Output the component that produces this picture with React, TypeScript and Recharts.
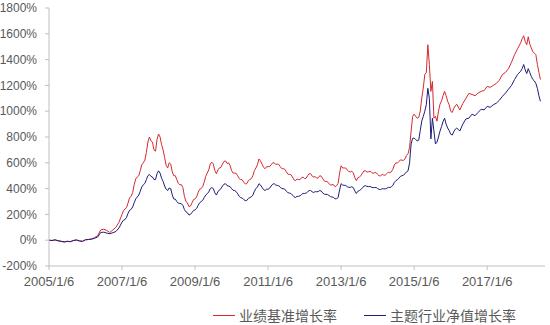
import React from 'react';
import { LineChart, Line, XAxis, YAxis } from 'recharts';

// month offsets from 2005/1/6
const months = [
  0, 1, 2, 3, 4, 5, 6, 7, 8, 9,
  10, 11, 12, 13, 14, 15, 16, 17, 18, 19,
  20, 21, 22, 23,
  24, 24.5, 25, 25.5, 26, 26.5, 27, 27.5, 28, 28.5,
  29, 29.5, 30, 30.5, 31, 31.5, 32, 32.5, 33, 33.5,
  34, 34.5, 35, 35.5, 36, 36.5, 37, 37.5, 38, 38.5,
  39, 39.5, 40, 40.5, 41, 41.5, 42, 42.5, 43, 43.5,
  44, 44.5, 45, 45.5, 46, 46.5, 47, 47.5, 48, 48.5,
  49, 49.5, 50, 50.5, 51, 51.5, 52, 52.5, 53, 53.5,
  54, 54.5, 55, 55.5, 56, 56.5, 57, 57.5, 58, 58.5,
  59, 59.5, 60, 60.5, 61, 61.5, 62, 62.5, 63, 63.5,
  64, 64.5, 65, 65.5, 66, 66.5, 67, 67.5, 68, 68.5,
  69, 69.5, 70, 70.5, 71, 71.5, 72, 72.5, 73, 73.5,
  74, 74.5, 75, 75.5, 76, 76.5, 77, 77.5, 78, 78.5,
  79, 79.5, 80, 80.5, 81, 81.5, 82, 82.5, 83, 83.5,
  84, 84.5, 85, 85.5, 86, 86.5, 87, 87.5, 88, 88.5,
  89, 89.5, 90, 90.5, 91, 91.5, 92, 92.5, 93, 93.5,
  94, 94.5, 95, 95.5, 96, 96.5, 97, 97.5, 98, 98.5,
  99, 99.5, 100, 100.5, 101, 101.5, 102, 102.5, 103, 103.5,
  104, 104.5, 105, 105.5, 106, 106.5, 107, 107.5, 108, 108.5,
  109, 109.5, 110, 110.5, 111, 111.5, 112, 112.5, 113, 113.5,
  114, 114.5, 115, 115.5, 116, 116.5, 117, 117.5,
  118, 118.5, 119, 119.5, 120, 120.5, 121, 121.5, 122, 122.5,
  123, 123.5, 124, 124.5, 125, 125.5, 126, 126.5, 127, 127.5,
  128, 128.5, 129, 129.5, 130, 130.5, 131, 131.5, 132, 132.5,
  133, 133.5, 134,
  135, 136, 137, 138, 139, 140, 141, 142, 143, 144,
  145, 146, 147, 148, 149, 150, 151, 152, 153, 154, 155,
  155.5, 156, 156.5, 157, 157.5, 158, 158.5, 159, 159.5, 160,
  160.5, 161, 161.5,
];

// 业绩基准增长率 (%)
const benchmark = [
  0, -3, 2, -5, -10, -14, -8, -12, -2, 3,
  -5, -8, 4, 6, 10, 20, 35, 80, 85, 75,
  60, 80, 100, 140,
  200, 230, 240, 255, 290, 330, 340, 370, 430, 475,
  490, 500, 540, 585, 600, 620, 680, 760, 800, 770,
  760, 700, 690, 780, 823, 800, 740, 700, 640, 580,
  560, 600, 590, 530, 500, 500, 470, 440, 430, 430,
  408, 340, 300, 290, 260, 265, 290, 315, 320, 335,
  370, 395, 400, 415, 450, 495, 520, 545, 590, 605,
  590, 540, 515, 545, 560, 565, 590, 610, 615, 595,
  600, 580, 540, 520, 520, 518, 500, 478, 470, 468,
  450, 436, 438, 462, 470, 478, 500, 540, 560, 585,
  630, 615, 590, 565, 554, 570, 570, 570, 585, 600,
  600, 588, 590, 588, 570, 555, 554, 550, 530, 512,
  510, 508, 490, 468, 462, 474, 470, 470, 485, 489,
  477, 481, 500, 515, 515, 496, 490, 493, 480, 484,
  500, 495, 475, 458, 455, 454, 438, 428, 430, 430,
  415, 422, 440, 520, 577, 560, 560, 560, 545, 532,
  530, 534, 523, 485, 462, 484, 490, 500, 520, 537,
  538, 528, 530, 535, 525, 518, 523, 524, 510, 499,
  500, 510, 505, 504, 515, 527, 523, 530, 550, 583,
  600, 598, 610, 623, 620, 619, 630, 658,
  670, 720, 846, 960, 977, 960, 946, 950, 1000, 1100,
  1180, 1285, 1300, 1515, 1362, 1154, 1230, 946, 960, 923,
  1000, 1054, 1080, 1120, 1154, 1120, 1077, 1050, 1000, 990,
  1020, 1040, 1054,
  1010, 1060, 1100, 1138, 1130, 1120, 1140, 1154, 1160, 1192,
  1185, 1200, 1215, 1240, 1285, 1300, 1330, 1380, 1438, 1485, 1530,
  1562, 1585, 1540, 1515, 1577, 1520, 1490, 1462, 1450, 1438,
  1362, 1300, 1246,
];

// 主题行业净值增长率 (%)
const fund = [
  0, -2, 3, -4, -8, -13, -9, -11, -3, 1,
  -6, -9, 3, 5, 8, 15, 25, 60, 62, 55,
  50, 58, 68, 95,
  140, 155, 160, 178, 210, 232, 240, 258, 290, 320,
  335, 350, 380, 413, 430, 440, 470, 500, 510, 495,
  490, 470, 470, 515, 538, 520, 480, 455, 420, 395,
  385, 405, 400, 352, 320, 318, 300, 287, 285, 283,
  270, 238, 220, 212, 195, 200, 215, 230, 235, 246,
  270, 290, 300, 309, 330, 350, 360, 374, 400, 408,
  400, 367, 350, 375, 390, 399, 420, 434, 438, 423,
  420, 415, 400, 387, 385, 377, 360, 340, 330, 327,
  315, 307, 308, 324, 330, 336, 350, 380, 400, 413,
  438, 428, 410, 393, 385, 395, 395, 403, 420, 434,
  438, 428, 425, 422, 410, 401, 400, 395, 380, 369,
  365, 362, 350, 337, 331, 340, 340, 344, 355, 363,
  362, 365, 375, 385, 385, 375, 370, 377, 375, 378,
  385, 380, 365, 357, 355, 355, 346, 338, 335, 332,
  320, 322, 330, 390, 438, 428, 425, 425, 415, 410,
  410, 414, 408, 382, 362, 379, 385, 393, 405, 419,
  423, 417, 415, 417, 410, 407, 408, 409, 400, 394,
  392, 400, 398, 398, 402, 410, 408, 414, 425, 448,
  462, 469, 480, 495, 500, 505, 515, 530,
  538, 600, 746, 790, 792, 780, 770, 775, 850, 923,
  960, 1000, 1050, 1177, 1100, 785, 946, 846, 746, 760,
  800, 846, 880, 920, 946, 900, 870, 850, 823, 815,
  840, 860, 870,
  846, 900, 940, 946, 977, 965, 990, 1015, 1010, 1038,
  1030, 1050, 1062, 1085, 1115, 1140, 1170, 1200, 1246, 1285, 1310,
  1330, 1362, 1320, 1292, 1330, 1300, 1270, 1246, 1235, 1215,
  1177, 1120, 1077,
];

const tickMonths = [0, 24, 48, 72, 96, 120, 144];
const tickLabels = ['2005/1/6', '2007/1/6', '2009/1/6', '2011/1/6', '2013/1/6', '2015/1/6', '2017/1/6'];
const yTicks = [-200, 0, 200, 400, 600, 800, 1000, 1200, 1400, 1600, 1800];
const seriesNames = ['业绩基准增长率', '主题行业净值增长率'];
const seriesColors = ['#d42a2f', '#1d1d78'];

const data = months.map((t, i) => ({ t, benchmark: benchmark[i], fund: fund[i] }));

const textColor = '#595959';
const axisColor = '#bfbfbf';

const LegendBlock = () => (
  <div
    style={{
      position: 'absolute',
      left: 213,
      top: 305,
      height: 20,
      display: 'flex',
      alignItems: 'center',
      fontFamily: '"Noto Sans CJK SC", sans-serif',
      fontSize: 14,
      color: textColor,
      lineHeight: '20px',
      whiteSpace: 'nowrap',
    }}
  >
    {seriesNames.map((name, i) => (
      <div key={name} style={{ display: 'flex', alignItems: 'center', marginRight: 27 }}>
        <div style={{ width: 22, height: 1, background: seriesColors[i], marginRight: 4 }} />
        <span>{name}</span>
      </div>
    ))}
  </div>
);

export default function App() {
  return (
    <div style={{ position: 'fixed', left: 0, top: 0, width: 550, height: 325, background: '#fff' }}>
      <LineChart
        width={550}
        height={325}
        data={data}
        margin={{ top: 8, right: 5, left: 0, bottom: 29 }}
      >
        <XAxis
          dataKey="t"
          type="number"
          domain={[0, 163]}
          ticks={tickMonths}
          tickFormatter={(v: number) => tickLabels[tickMonths.indexOf(v)] ?? ''}
          stroke={axisColor}
          tickSize={4}
          tickMargin={7}
          height={30}
          tick={{ fill: textColor, fontSize: 13, fontFamily: '"Liberation Sans", Arial, sans-serif' }}
          interval={0}
        />
        <YAxis
          type="number"
          domain={[-200, 1800]}
          ticks={yTicks}
          tickFormatter={(v: number) => `${v}%`}
          stroke={axisColor}
          tickSize={4}
          tickMargin={8}
          width={49}
          tick={{ fill: textColor, fontSize: 12, fontFamily: '"Liberation Sans", Arial, sans-serif' }}
          interval={0}
        />
        <Line
          type="linear"
          dataKey="benchmark"
          name={seriesNames[0]}
          stroke={seriesColors[0]}
          strokeWidth={1}
          dot={false}
          isAnimationActive={false}
        />
        <Line
          type="linear"
          dataKey="fund"
          name={seriesNames[1]}
          stroke={seriesColors[1]}
          strokeWidth={1}
          dot={false}
          isAnimationActive={false}
        />
      </LineChart>
      <LegendBlock />
    </div>
  );
}
